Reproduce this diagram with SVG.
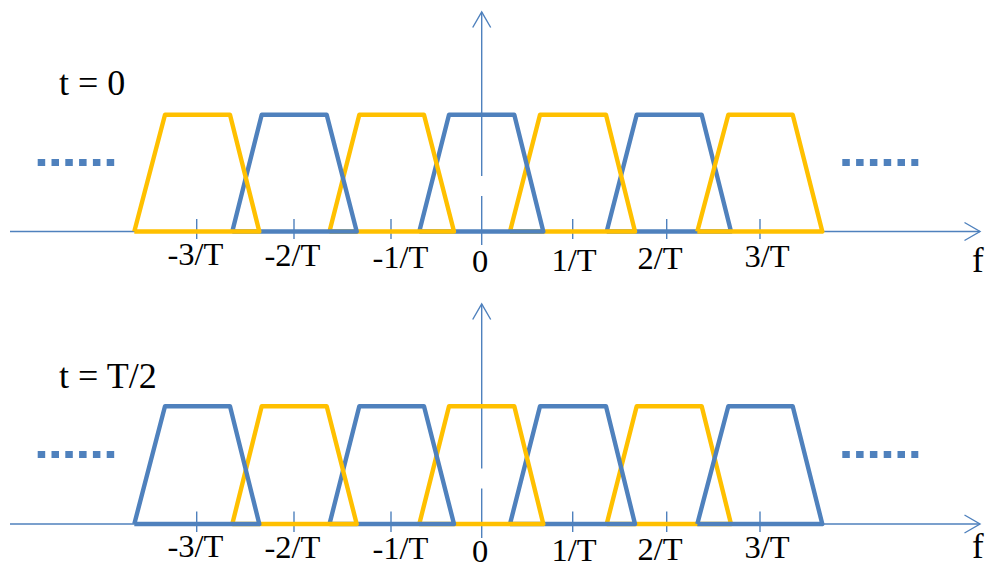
<svg xmlns="http://www.w3.org/2000/svg" width="990" height="569" viewBox="0 0 990 569">
<defs>
<style>
.axis{stroke:#4F81BD;stroke-width:1.4;fill:none}
.tick{stroke:#4F81BD;stroke-width:1.4}
.tb{fill:none;stroke:#4F81BD;stroke-width:4.4;stroke-linejoin:round}
.ty{fill:none;stroke:#FFC000;stroke-width:4.4;stroke-linejoin:round}
.dots{stroke:#4F81BD;stroke-width:7;stroke-dasharray:7.5 6.3}
.lbl{font-family:"Liberation Serif","Times New Roman",serif;font-size:32.5px;fill:#000}
.ttl{font-family:"Liberation Serif","Times New Roman",serif;font-size:36px;fill:#000}
.fl{font-family:"Liberation Serif","Times New Roman",serif;font-size:35px;fill:#000}
</style>
<marker id="arr" markerUnits="userSpaceOnUse" markerWidth="20" markerHeight="24" viewBox="-17 -11 20 22" refX="0" refY="0" orient="auto" overflow="visible">
<path d="M -15.5 -9 L 0 0 L -15.5 9" fill="none" stroke="#4F81BD" stroke-width="1.4"/>
</marker>
</defs>
<rect width="990" height="569" fill="#fff"/>

<g id="connectors">
<line class="axis" x1="10" y1="231.5" x2="980" y2="231.5" marker-end="url(#arr)"/>
<line class="axis" x1="481.7" y1="176" x2="481.7" y2="12" marker-end="url(#arr)"/>
<line class="axis" x1="481.7" y1="196" x2="481.7" y2="245"/>
<line class="axis" x1="10" y1="524" x2="980" y2="524" marker-end="url(#arr)"/>
<line class="axis" x1="481.7" y1="468.5" x2="481.7" y2="304" marker-end="url(#arr)"/>
<line class="axis" x1="481.7" y1="488.5" x2="481.7" y2="538"/>
<g id="ticks-top">
<line class="tick" x1="196.7" y1="219" x2="196.7" y2="239"/>
<line class="tick" x1="294" y1="219" x2="294" y2="239"/>
<line class="tick" x1="391" y1="219" x2="391" y2="239"/>
<line class="tick" x1="572.7" y1="219" x2="572.7" y2="239"/>
<line class="tick" x1="666.7" y1="219" x2="666.7" y2="239"/>
<line class="tick" x1="760" y1="219" x2="760" y2="239"/>
</g>
<g id="ticks-bottom">
<line class="tick" x1="196.7" y1="511.5" x2="196.7" y2="532"/>
<line class="tick" x1="294" y1="511.5" x2="294" y2="532"/>
<line class="tick" x1="391" y1="511.5" x2="391" y2="532"/>
<line class="tick" x1="572.7" y1="511.5" x2="572.7" y2="532"/>
<line class="tick" x1="666.7" y1="511.5" x2="666.7" y2="532"/>
<line class="tick" x1="760" y1="511.5" x2="760" y2="532"/>
</g>
</g>

<g id="spectrum-t0">
<polyline id="t0-b3" class="tb" points="606.7,231.5 636.7,114.7 701.7,114.7 731,231.5 606.7,231.5"/>
<polyline id="t0-y4" class="ty" points="697.3,231.5 728.3,114.7 792.7,114.7 822.3,231.5 697.3,231.5"/>
<polyline id="t0-y3" class="ty" points="510,231.5 540,114.7 606,114.7 635,231.5 510,231.5"/>
<polyline id="t0-b2" class="tb" points="419.3,231.5 449,114.7 514.3,114.7 543.3,231.5 419.3,231.5"/>
<polyline id="t0-y2" class="ty" points="329.5,231.5 359.3,114.7 424,114.7 454,231.5 329.5,231.5"/>
<polyline id="t0-b1" class="tb" points="232.3,231.5 261.7,114.7 326.7,114.7 356.7,231.5 232.3,231.5"/>
<polyline id="t0-y1" class="ty" points="134.3,231.5 165,114.7 230,114.7 259.3,231.5 134.3,231.5"/>
</g>

<g id="spectrum-tT2">
<polyline id="tT2-y3" class="ty" points="606.7,524 636.7,406.3 701.7,406.3 731,524 606.7,524"/>
<polyline id="tT2-b4" class="tb" points="697.3,524 728.3,406.3 792.7,406.3 822.3,524 697.3,524"/>
<polyline id="tT2-b3" class="tb" points="510,524 540,406.3 606,406.3 635,524 510,524"/>
<polyline id="tT2-y2" class="ty" points="419.3,524 449,406.3 514.3,406.3 543.3,524 419.3,524"/>
<polyline id="tT2-b2" class="tb" points="329.5,524 359.3,406.3 424,406.3 454,524 329.5,524"/>
<polyline id="tT2-y1" class="ty" points="232.3,524 261.7,406.3 326.7,406.3 356.7,524 232.3,524"/>
<polyline id="tT2-b1" class="tb" points="134.3,524 165,406.3 230,406.3 259.3,524 134.3,524"/>
</g>

<g id="ellipses">
<line class="dots" x1="37.7" y1="162.5" x2="114.3" y2="162.5"/>
<line class="dots" x1="842.3" y1="162.5" x2="918.3" y2="162.5"/>
<line class="dots" x1="37.7" y1="454.5" x2="114.3" y2="454.5"/>
<line class="dots" x1="842.3" y1="454.5" x2="918.3" y2="454.5"/>
</g>

<g id="labels-top">
<text class="ttl" x="59" y="95">t = 0</text>
<text class="lbl" x="167.5" y="265">-3/T</text>
<text class="lbl" x="264.5" y="265.5">-2/T</text>
<text class="lbl" x="372.5" y="268">-1/T</text>
<text class="lbl" x="472" y="272">0</text>
<text class="lbl" x="551.5" y="270.5">1/T</text>
<text class="lbl" x="637.5" y="269">2/T</text>
<text class="lbl" x="744.5" y="266.5">3/T</text>
<text class="fl" x="972" y="272">f</text>
</g>
<g id="labels-bottom">
<text class="ttl" x="59" y="388">t = T/2</text>
<text class="lbl" x="167.5" y="557">-3/T</text>
<text class="lbl" x="264.5" y="557.5">-2/T</text>
<text class="lbl" x="372.5" y="559">-1/T</text>
<text class="lbl" x="472" y="562">0</text>
<text class="lbl" x="551.5" y="561">1/T</text>
<text class="lbl" x="637.5" y="560">2/T</text>
<text class="lbl" x="744.5" y="557.5">3/T</text>
<text class="fl" x="972" y="558">f</text>
</g>
</svg>
